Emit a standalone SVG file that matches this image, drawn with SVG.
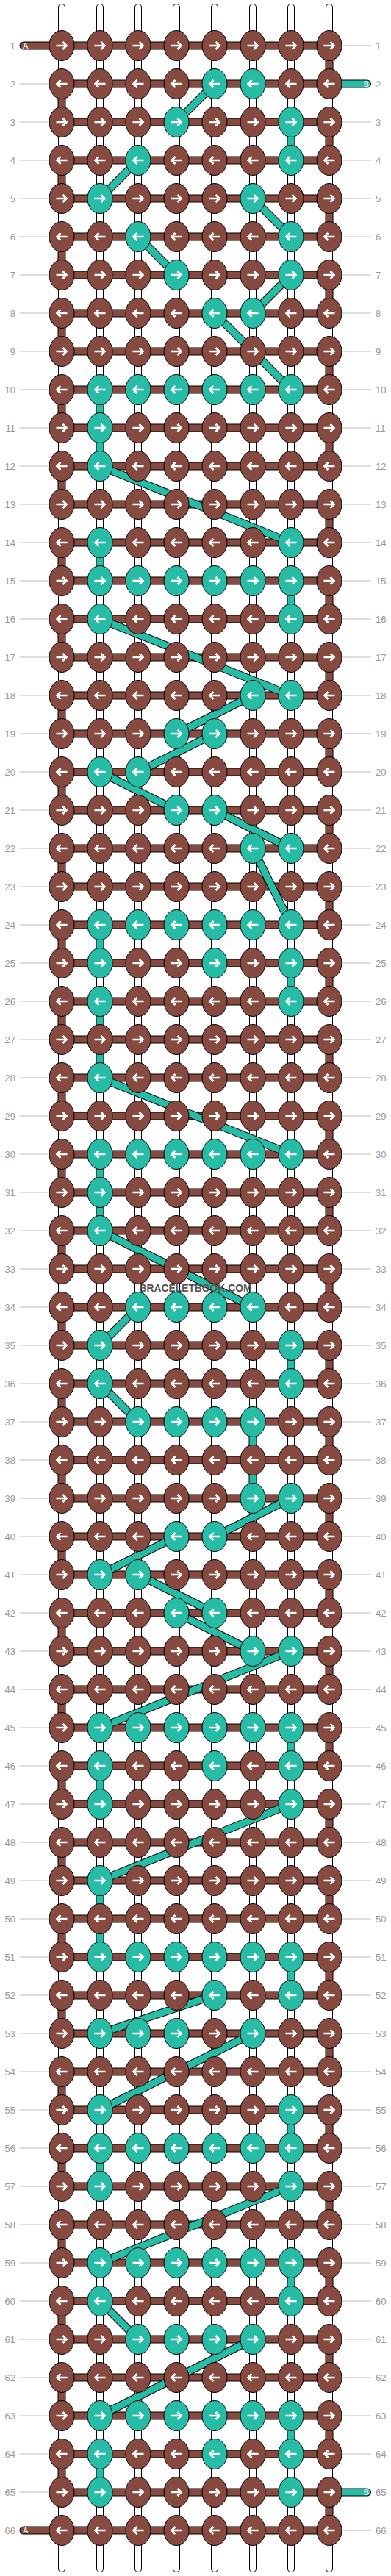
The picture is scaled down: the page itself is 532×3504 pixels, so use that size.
<svg xmlns="http://www.w3.org/2000/svg" xmlns:xlink="http://www.w3.org/1999/xlink" width="532" height="3504" viewBox="0 0 532 3504">
<style>
.sk{fill:none;stroke:#000;stroke-width:10;stroke-linecap:round}
.sw{fill:none;stroke:#fff;stroke-width:8;stroke-linecap:round}
.ak{fill:none;stroke:#000;stroke-width:11;stroke-linecap:round;stroke-linejoin:miter}
.ab{fill:none;stroke:#864a40;stroke-width:9;stroke-linecap:round;stroke-linejoin:miter}
.bk{fill:none;stroke:#000;stroke-width:11}
.bt{fill:none;stroke:#27bca5;stroke-width:9}
.ar{fill:none;stroke:#fff;stroke-width:2.6}
.l{font-family:"Liberation Sans",Arial,sans-serif;font-size:13px;fill:#999;text-anchor:end}
.r{font-family:"Liberation Sans",Arial,sans-serif;font-size:13px;fill:#999}
.ends{font-family:"Liberation Sans",Arial,sans-serif;font-size:11px;fill:#fff}
</style>
<defs>
<pattern id="gl" x="27" y="36" width="478" height="52" patternUnits="userSpaceOnUse"><rect y="25.5" width="478" height="1" fill="#bbb"/></pattern>
<g id="bR"><ellipse rx="17" ry="20.5" fill="#864a40" stroke="#000"/><path class="ar" d="M-7.5 0H6M1.5-5L6.5 0L1.5 5"/></g>
<g id="bL"><ellipse rx="17" ry="20.5" fill="#864a40" stroke="#000"/><path class="ar" d="M7.5 0H-6M-1.5-5L-6.5 0L-1.5 5"/></g>
<g id="tR"><ellipse rx="17" ry="20.5" fill="#27bca5" stroke="#000"/><path class="ar" d="M-7.5 0H6M1.5-5L6.5 0L1.5 5"/></g>
<g id="tL"><ellipse rx="17" ry="20.5" fill="#27bca5" stroke="#000"/><path class="ar" d="M7.5 0H-6M-1.5-5L-6.5 0L-1.5 5"/></g>
<path id="strands" d="M84 10V3494M136 10V3494M188 10V3494M240 10V3494M292 10V3494M344 10V3494M396 10V3494M448 10V3494"/>
<path id="apath" d="M32 62H448V114H84V166H448V218H84V270H448V322H84V374H448V426H84V478H448V530H84V582H448V634H84V686H448V738H84V790H448V842H84V894H448V946H84V998H448V1050H84V1102H448V1154H84V1206H448V1258H84V1310H448V1362H84V1414H448V1466H84V1518H448V1570H84V1622H448V1674H84V1726H448V1778H84V1830H448V1882H84V1934H448V1986H84V2038H448V2090H84V2142H448V2194H84V2246H448V2298H84V2350H448V2402H84V2454H448V2506H84V2558H448V2610H84V2662H448V2714H84V2766H448V2818H84V2870H448V2922H84V2974H448V3026H84V3078H448V3130H84V3182H448V3234H84V3286H448V3338H84V3390H448V3442H32"/>
<path id="bpath" d="M292 114L240 166M396 166V218M188 218L136 270M344 270L396 322M188 322L240 374M396 374L344 426M292 426L396 530M136 530V634M136 634L396 738M136 738V790M396 790V842M136 842L396 946M344 946L240 998M292 998L188 1050M136 1050L240 1102M292 1102L396 1154M344 1154L396 1258M136 1258V1310M396 1310V1362M136 1362V1466M136 1466L396 1570M136 1570V1674M136 1674L344 1778M188 1778L136 1830M396 1830V1882M136 1882L188 1934M344 1934V2038M396 2038L292 2090M240 2090L136 2142M188 2142L292 2194M240 2194L344 2246M396 2246L136 2350M396 2350V2402M136 2402V2454M396 2454L136 2558M136 2558V2662M396 2662V2714M292 2714L136 2766M344 2766L136 2870M396 2870V2922M136 2922V2974M396 2974L136 3078M396 3078V3130M136 3130L188 3182M344 3182L136 3286M396 3286V3338M136 3338V3390"/>
<path id="bends" d="M448 114H499.5M448 3390H499.5"/>
</defs>
<rect x="27" y="36" width="478" height="3432" fill="url(#gl)"/>
<g id="strings">
<use href="#strands" class="sk"/><use href="#strands" class="sw"/>
</g>
<g id="connectors">
<use href="#apath" class="ak"/><use href="#apath" class="ab"/>
<use href="#bends" class="ak"/><use href="#bends" class="ab" style="stroke:#27bca5"/>
<use href="#bpath" class="bk"/><use href="#bpath" class="bt"/>
</g>
<g id="end-labels">
<text class="ends" x="31" y="66">A</text>
<text class="ends" x="502" y="118" text-anchor="end">B</text>
<text class="ends" x="502" y="3394" text-anchor="end">B</text>
<text class="ends" x="31" y="3446">A</text>
</g>
<g id="knots">
<g transform="translate(0,62)"><g id="k1-1"><use href="#bR" x="84"/></g><g id="k1-2"><use href="#bR" x="136"/></g><g id="k1-3"><use href="#bR" x="188"/></g><g id="k1-4"><use href="#bR" x="240"/></g><g id="k1-5"><use href="#bR" x="292"/></g><g id="k1-6"><use href="#bR" x="344"/></g><g id="k1-7"><use href="#bR" x="396"/></g><g id="k1-8"><use href="#bR" x="448"/></g></g>
<g transform="translate(0,114)"><g id="k2-1"><use href="#bL" x="84"/></g><g id="k2-2"><use href="#bL" x="136"/></g><g id="k2-3"><use href="#bL" x="188"/></g><g id="k2-4"><use href="#bL" x="240"/></g><g id="k2-5"><use href="#tL" x="292"/></g><g id="k2-6"><use href="#tL" x="344"/></g><g id="k2-7"><use href="#bL" x="396"/></g><g id="k2-8"><use href="#bL" x="448"/></g></g>
<g transform="translate(0,166)"><g id="k3-1"><use href="#bR" x="84"/></g><g id="k3-2"><use href="#bR" x="136"/></g><g id="k3-3"><use href="#bR" x="188"/></g><g id="k3-4"><use href="#tR" x="240"/></g><g id="k3-5"><use href="#bR" x="292"/></g><g id="k3-6"><use href="#bR" x="344"/></g><g id="k3-7"><use href="#tR" x="396"/></g><g id="k3-8"><use href="#bR" x="448"/></g></g>
<g transform="translate(0,218)"><g id="k4-1"><use href="#bL" x="84"/></g><g id="k4-2"><use href="#bL" x="136"/></g><g id="k4-3"><use href="#tL" x="188"/></g><g id="k4-4"><use href="#bL" x="240"/></g><g id="k4-5"><use href="#bL" x="292"/></g><g id="k4-6"><use href="#bL" x="344"/></g><g id="k4-7"><use href="#tL" x="396"/></g><g id="k4-8"><use href="#bL" x="448"/></g></g>
<g transform="translate(0,270)"><g id="k5-1"><use href="#bR" x="84"/></g><g id="k5-2"><use href="#tR" x="136"/></g><g id="k5-3"><use href="#bR" x="188"/></g><g id="k5-4"><use href="#bR" x="240"/></g><g id="k5-5"><use href="#bR" x="292"/></g><g id="k5-6"><use href="#tR" x="344"/></g><g id="k5-7"><use href="#bR" x="396"/></g><g id="k5-8"><use href="#bR" x="448"/></g></g>
<g transform="translate(0,322)"><g id="k6-1"><use href="#bL" x="84"/></g><g id="k6-2"><use href="#bL" x="136"/></g><g id="k6-3"><use href="#tL" x="188"/></g><g id="k6-4"><use href="#bL" x="240"/></g><g id="k6-5"><use href="#bL" x="292"/></g><g id="k6-6"><use href="#bL" x="344"/></g><g id="k6-7"><use href="#tL" x="396"/></g><g id="k6-8"><use href="#bL" x="448"/></g></g>
<g transform="translate(0,374)"><g id="k7-1"><use href="#bR" x="84"/></g><g id="k7-2"><use href="#bR" x="136"/></g><g id="k7-3"><use href="#bR" x="188"/></g><g id="k7-4"><use href="#tR" x="240"/></g><g id="k7-5"><use href="#bR" x="292"/></g><g id="k7-6"><use href="#bR" x="344"/></g><g id="k7-7"><use href="#tR" x="396"/></g><g id="k7-8"><use href="#bR" x="448"/></g></g>
<g transform="translate(0,426)"><g id="k8-1"><use href="#bL" x="84"/></g><g id="k8-2"><use href="#bL" x="136"/></g><g id="k8-3"><use href="#bL" x="188"/></g><g id="k8-4"><use href="#bL" x="240"/></g><g id="k8-5"><use href="#tL" x="292"/></g><g id="k8-6"><use href="#tL" x="344"/></g><g id="k8-7"><use href="#bL" x="396"/></g><g id="k8-8"><use href="#bL" x="448"/></g></g>
<g transform="translate(0,478)"><g id="k9-1"><use href="#bR" x="84"/></g><g id="k9-2"><use href="#bR" x="136"/></g><g id="k9-3"><use href="#bR" x="188"/></g><g id="k9-4"><use href="#bR" x="240"/></g><g id="k9-5"><use href="#bR" x="292"/></g><g id="k9-6"><use href="#bR" x="344"/></g><g id="k9-7"><use href="#bR" x="396"/></g><g id="k9-8"><use href="#bR" x="448"/></g></g>
<g transform="translate(0,530)"><g id="k10-1"><use href="#bL" x="84"/></g><g id="k10-2"><use href="#tL" x="136"/></g><g id="k10-3"><use href="#tL" x="188"/></g><g id="k10-4"><use href="#tL" x="240"/></g><g id="k10-5"><use href="#tL" x="292"/></g><g id="k10-6"><use href="#tL" x="344"/></g><g id="k10-7"><use href="#tL" x="396"/></g><g id="k10-8"><use href="#bL" x="448"/></g></g>
<g transform="translate(0,582)"><g id="k11-1"><use href="#bR" x="84"/></g><g id="k11-2"><use href="#tR" x="136"/></g><g id="k11-3"><use href="#bR" x="188"/></g><g id="k11-4"><use href="#bR" x="240"/></g><g id="k11-5"><use href="#bR" x="292"/></g><g id="k11-6"><use href="#bR" x="344"/></g><g id="k11-7"><use href="#bR" x="396"/></g><g id="k11-8"><use href="#bR" x="448"/></g></g>
<g transform="translate(0,634)"><g id="k12-1"><use href="#bL" x="84"/></g><g id="k12-2"><use href="#tL" x="136"/></g><g id="k12-3"><use href="#bL" x="188"/></g><g id="k12-4"><use href="#bL" x="240"/></g><g id="k12-5"><use href="#bL" x="292"/></g><g id="k12-6"><use href="#bL" x="344"/></g><g id="k12-7"><use href="#bL" x="396"/></g><g id="k12-8"><use href="#bL" x="448"/></g></g>
<g transform="translate(0,686)"><g id="k13-1"><use href="#bR" x="84"/></g><g id="k13-2"><use href="#bR" x="136"/></g><g id="k13-3"><use href="#bR" x="188"/></g><g id="k13-4"><use href="#bR" x="240"/></g><g id="k13-5"><use href="#bR" x="292"/></g><g id="k13-6"><use href="#bR" x="344"/></g><g id="k13-7"><use href="#bR" x="396"/></g><g id="k13-8"><use href="#bR" x="448"/></g></g>
<g transform="translate(0,738)"><g id="k14-1"><use href="#bL" x="84"/></g><g id="k14-2"><use href="#tL" x="136"/></g><g id="k14-3"><use href="#bL" x="188"/></g><g id="k14-4"><use href="#bL" x="240"/></g><g id="k14-5"><use href="#bL" x="292"/></g><g id="k14-6"><use href="#bL" x="344"/></g><g id="k14-7"><use href="#tL" x="396"/></g><g id="k14-8"><use href="#bL" x="448"/></g></g>
<g transform="translate(0,790)"><g id="k15-1"><use href="#bR" x="84"/></g><g id="k15-2"><use href="#tR" x="136"/></g><g id="k15-3"><use href="#tR" x="188"/></g><g id="k15-4"><use href="#tR" x="240"/></g><g id="k15-5"><use href="#tR" x="292"/></g><g id="k15-6"><use href="#tR" x="344"/></g><g id="k15-7"><use href="#tR" x="396"/></g><g id="k15-8"><use href="#bR" x="448"/></g></g>
<g transform="translate(0,842)"><g id="k16-1"><use href="#bL" x="84"/></g><g id="k16-2"><use href="#tL" x="136"/></g><g id="k16-3"><use href="#bL" x="188"/></g><g id="k16-4"><use href="#bL" x="240"/></g><g id="k16-5"><use href="#bL" x="292"/></g><g id="k16-6"><use href="#bL" x="344"/></g><g id="k16-7"><use href="#tL" x="396"/></g><g id="k16-8"><use href="#bL" x="448"/></g></g>
<g transform="translate(0,894)"><g id="k17-1"><use href="#bR" x="84"/></g><g id="k17-2"><use href="#bR" x="136"/></g><g id="k17-3"><use href="#bR" x="188"/></g><g id="k17-4"><use href="#bR" x="240"/></g><g id="k17-5"><use href="#bR" x="292"/></g><g id="k17-6"><use href="#bR" x="344"/></g><g id="k17-7"><use href="#bR" x="396"/></g><g id="k17-8"><use href="#bR" x="448"/></g></g>
<g transform="translate(0,946)"><g id="k18-1"><use href="#bL" x="84"/></g><g id="k18-2"><use href="#bL" x="136"/></g><g id="k18-3"><use href="#bL" x="188"/></g><g id="k18-4"><use href="#bL" x="240"/></g><g id="k18-5"><use href="#bL" x="292"/></g><g id="k18-6"><use href="#tL" x="344"/></g><g id="k18-7"><use href="#tL" x="396"/></g><g id="k18-8"><use href="#bL" x="448"/></g></g>
<g transform="translate(0,998)"><g id="k19-1"><use href="#bR" x="84"/></g><g id="k19-2"><use href="#bR" x="136"/></g><g id="k19-3"><use href="#bR" x="188"/></g><g id="k19-4"><use href="#tR" x="240"/></g><g id="k19-5"><use href="#tR" x="292"/></g><g id="k19-6"><use href="#bR" x="344"/></g><g id="k19-7"><use href="#bR" x="396"/></g><g id="k19-8"><use href="#bR" x="448"/></g></g>
<g transform="translate(0,1050)"><g id="k20-1"><use href="#bL" x="84"/></g><g id="k20-2"><use href="#tL" x="136"/></g><g id="k20-3"><use href="#tL" x="188"/></g><g id="k20-4"><use href="#bL" x="240"/></g><g id="k20-5"><use href="#bL" x="292"/></g><g id="k20-6"><use href="#bL" x="344"/></g><g id="k20-7"><use href="#bL" x="396"/></g><g id="k20-8"><use href="#bL" x="448"/></g></g>
<g transform="translate(0,1102)"><g id="k21-1"><use href="#bR" x="84"/></g><g id="k21-2"><use href="#bR" x="136"/></g><g id="k21-3"><use href="#bR" x="188"/></g><g id="k21-4"><use href="#tR" x="240"/></g><g id="k21-5"><use href="#tR" x="292"/></g><g id="k21-6"><use href="#bR" x="344"/></g><g id="k21-7"><use href="#bR" x="396"/></g><g id="k21-8"><use href="#bR" x="448"/></g></g>
<g transform="translate(0,1154)"><g id="k22-1"><use href="#bL" x="84"/></g><g id="k22-2"><use href="#bL" x="136"/></g><g id="k22-3"><use href="#bL" x="188"/></g><g id="k22-4"><use href="#bL" x="240"/></g><g id="k22-5"><use href="#bL" x="292"/></g><g id="k22-6"><use href="#tL" x="344"/></g><g id="k22-7"><use href="#tL" x="396"/></g><g id="k22-8"><use href="#bL" x="448"/></g></g>
<g transform="translate(0,1206)"><g id="k23-1"><use href="#bR" x="84"/></g><g id="k23-2"><use href="#bR" x="136"/></g><g id="k23-3"><use href="#bR" x="188"/></g><g id="k23-4"><use href="#bR" x="240"/></g><g id="k23-5"><use href="#bR" x="292"/></g><g id="k23-6"><use href="#bR" x="344"/></g><g id="k23-7"><use href="#bR" x="396"/></g><g id="k23-8"><use href="#bR" x="448"/></g></g>
<g transform="translate(0,1258)"><g id="k24-1"><use href="#bL" x="84"/></g><g id="k24-2"><use href="#tL" x="136"/></g><g id="k24-3"><use href="#tL" x="188"/></g><g id="k24-4"><use href="#tL" x="240"/></g><g id="k24-5"><use href="#tL" x="292"/></g><g id="k24-6"><use href="#tL" x="344"/></g><g id="k24-7"><use href="#tL" x="396"/></g><g id="k24-8"><use href="#bL" x="448"/></g></g>
<g transform="translate(0,1310)"><g id="k25-1"><use href="#bR" x="84"/></g><g id="k25-2"><use href="#tR" x="136"/></g><g id="k25-3"><use href="#bR" x="188"/></g><g id="k25-4"><use href="#bR" x="240"/></g><g id="k25-5"><use href="#tR" x="292"/></g><g id="k25-6"><use href="#bR" x="344"/></g><g id="k25-7"><use href="#tR" x="396"/></g><g id="k25-8"><use href="#bR" x="448"/></g></g>
<g transform="translate(0,1362)"><g id="k26-1"><use href="#bL" x="84"/></g><g id="k26-2"><use href="#tL" x="136"/></g><g id="k26-3"><use href="#bL" x="188"/></g><g id="k26-4"><use href="#bL" x="240"/></g><g id="k26-5"><use href="#bL" x="292"/></g><g id="k26-6"><use href="#bL" x="344"/></g><g id="k26-7"><use href="#tL" x="396"/></g><g id="k26-8"><use href="#bL" x="448"/></g></g>
<g transform="translate(0,1414)"><g id="k27-1"><use href="#bR" x="84"/></g><g id="k27-2"><use href="#bR" x="136"/></g><g id="k27-3"><use href="#bR" x="188"/></g><g id="k27-4"><use href="#bR" x="240"/></g><g id="k27-5"><use href="#bR" x="292"/></g><g id="k27-6"><use href="#bR" x="344"/></g><g id="k27-7"><use href="#bR" x="396"/></g><g id="k27-8"><use href="#bR" x="448"/></g></g>
<g transform="translate(0,1466)"><g id="k28-1"><use href="#bL" x="84"/></g><g id="k28-2"><use href="#tL" x="136"/></g><g id="k28-3"><use href="#bL" x="188"/></g><g id="k28-4"><use href="#bL" x="240"/></g><g id="k28-5"><use href="#bL" x="292"/></g><g id="k28-6"><use href="#bL" x="344"/></g><g id="k28-7"><use href="#bL" x="396"/></g><g id="k28-8"><use href="#bL" x="448"/></g></g>
<g transform="translate(0,1518)"><g id="k29-1"><use href="#bR" x="84"/></g><g id="k29-2"><use href="#bR" x="136"/></g><g id="k29-3"><use href="#bR" x="188"/></g><g id="k29-4"><use href="#bR" x="240"/></g><g id="k29-5"><use href="#bR" x="292"/></g><g id="k29-6"><use href="#bR" x="344"/></g><g id="k29-7"><use href="#bR" x="396"/></g><g id="k29-8"><use href="#bR" x="448"/></g></g>
<g transform="translate(0,1570)"><g id="k30-1"><use href="#bL" x="84"/></g><g id="k30-2"><use href="#tL" x="136"/></g><g id="k30-3"><use href="#tL" x="188"/></g><g id="k30-4"><use href="#tL" x="240"/></g><g id="k30-5"><use href="#tL" x="292"/></g><g id="k30-6"><use href="#tL" x="344"/></g><g id="k30-7"><use href="#tL" x="396"/></g><g id="k30-8"><use href="#bL" x="448"/></g></g>
<g transform="translate(0,1622)"><g id="k31-1"><use href="#bR" x="84"/></g><g id="k31-2"><use href="#tR" x="136"/></g><g id="k31-3"><use href="#bR" x="188"/></g><g id="k31-4"><use href="#bR" x="240"/></g><g id="k31-5"><use href="#bR" x="292"/></g><g id="k31-6"><use href="#bR" x="344"/></g><g id="k31-7"><use href="#bR" x="396"/></g><g id="k31-8"><use href="#bR" x="448"/></g></g>
<g transform="translate(0,1674)"><g id="k32-1"><use href="#bL" x="84"/></g><g id="k32-2"><use href="#tL" x="136"/></g><g id="k32-3"><use href="#bL" x="188"/></g><g id="k32-4"><use href="#bL" x="240"/></g><g id="k32-5"><use href="#bL" x="292"/></g><g id="k32-6"><use href="#bL" x="344"/></g><g id="k32-7"><use href="#bL" x="396"/></g><g id="k32-8"><use href="#bL" x="448"/></g></g>
<g transform="translate(0,1726)"><g id="k33-1"><use href="#bR" x="84"/></g><g id="k33-2"><use href="#bR" x="136"/></g><g id="k33-3"><use href="#bR" x="188"/></g><g id="k33-4"><use href="#bR" x="240"/></g><g id="k33-5"><use href="#bR" x="292"/></g><g id="k33-6"><use href="#bR" x="344"/></g><g id="k33-7"><use href="#bR" x="396"/></g><g id="k33-8"><use href="#bR" x="448"/></g></g>
<g transform="translate(0,1778)"><g id="k34-1"><use href="#bL" x="84"/></g><g id="k34-2"><use href="#bL" x="136"/></g><g id="k34-3"><use href="#tL" x="188"/></g><g id="k34-4"><use href="#tL" x="240"/></g><g id="k34-5"><use href="#tL" x="292"/></g><g id="k34-6"><use href="#tL" x="344"/></g><g id="k34-7"><use href="#bL" x="396"/></g><g id="k34-8"><use href="#bL" x="448"/></g></g>
<g transform="translate(0,1830)"><g id="k35-1"><use href="#bR" x="84"/></g><g id="k35-2"><use href="#tR" x="136"/></g><g id="k35-3"><use href="#bR" x="188"/></g><g id="k35-4"><use href="#bR" x="240"/></g><g id="k35-5"><use href="#bR" x="292"/></g><g id="k35-6"><use href="#bR" x="344"/></g><g id="k35-7"><use href="#tR" x="396"/></g><g id="k35-8"><use href="#bR" x="448"/></g></g>
<g transform="translate(0,1882)"><g id="k36-1"><use href="#bL" x="84"/></g><g id="k36-2"><use href="#tL" x="136"/></g><g id="k36-3"><use href="#bL" x="188"/></g><g id="k36-4"><use href="#bL" x="240"/></g><g id="k36-5"><use href="#bL" x="292"/></g><g id="k36-6"><use href="#bL" x="344"/></g><g id="k36-7"><use href="#tL" x="396"/></g><g id="k36-8"><use href="#bL" x="448"/></g></g>
<g transform="translate(0,1934)"><g id="k37-1"><use href="#bR" x="84"/></g><g id="k37-2"><use href="#bR" x="136"/></g><g id="k37-3"><use href="#tR" x="188"/></g><g id="k37-4"><use href="#tR" x="240"/></g><g id="k37-5"><use href="#tR" x="292"/></g><g id="k37-6"><use href="#tR" x="344"/></g><g id="k37-7"><use href="#bR" x="396"/></g><g id="k37-8"><use href="#bR" x="448"/></g></g>
<g transform="translate(0,1986)"><g id="k38-1"><use href="#bL" x="84"/></g><g id="k38-2"><use href="#bL" x="136"/></g><g id="k38-3"><use href="#bL" x="188"/></g><g id="k38-4"><use href="#bL" x="240"/></g><g id="k38-5"><use href="#bL" x="292"/></g><g id="k38-6"><use href="#bL" x="344"/></g><g id="k38-7"><use href="#bL" x="396"/></g><g id="k38-8"><use href="#bL" x="448"/></g></g>
<g transform="translate(0,2038)"><g id="k39-1"><use href="#bR" x="84"/></g><g id="k39-2"><use href="#bR" x="136"/></g><g id="k39-3"><use href="#bR" x="188"/></g><g id="k39-4"><use href="#bR" x="240"/></g><g id="k39-5"><use href="#bR" x="292"/></g><g id="k39-6"><use href="#tR" x="344"/></g><g id="k39-7"><use href="#tR" x="396"/></g><g id="k39-8"><use href="#bR" x="448"/></g></g>
<g transform="translate(0,2090)"><g id="k40-1"><use href="#bL" x="84"/></g><g id="k40-2"><use href="#bL" x="136"/></g><g id="k40-3"><use href="#bL" x="188"/></g><g id="k40-4"><use href="#tL" x="240"/></g><g id="k40-5"><use href="#tL" x="292"/></g><g id="k40-6"><use href="#bL" x="344"/></g><g id="k40-7"><use href="#bL" x="396"/></g><g id="k40-8"><use href="#bL" x="448"/></g></g>
<g transform="translate(0,2142)"><g id="k41-1"><use href="#bR" x="84"/></g><g id="k41-2"><use href="#tR" x="136"/></g><g id="k41-3"><use href="#tR" x="188"/></g><g id="k41-4"><use href="#bR" x="240"/></g><g id="k41-5"><use href="#bR" x="292"/></g><g id="k41-6"><use href="#bR" x="344"/></g><g id="k41-7"><use href="#bR" x="396"/></g><g id="k41-8"><use href="#bR" x="448"/></g></g>
<g transform="translate(0,2194)"><g id="k42-1"><use href="#bL" x="84"/></g><g id="k42-2"><use href="#bL" x="136"/></g><g id="k42-3"><use href="#bL" x="188"/></g><g id="k42-4"><use href="#tL" x="240"/></g><g id="k42-5"><use href="#tL" x="292"/></g><g id="k42-6"><use href="#bL" x="344"/></g><g id="k42-7"><use href="#bL" x="396"/></g><g id="k42-8"><use href="#bL" x="448"/></g></g>
<g transform="translate(0,2246)"><g id="k43-1"><use href="#bR" x="84"/></g><g id="k43-2"><use href="#bR" x="136"/></g><g id="k43-3"><use href="#bR" x="188"/></g><g id="k43-4"><use href="#bR" x="240"/></g><g id="k43-5"><use href="#bR" x="292"/></g><g id="k43-6"><use href="#tR" x="344"/></g><g id="k43-7"><use href="#tR" x="396"/></g><g id="k43-8"><use href="#bR" x="448"/></g></g>
<g transform="translate(0,2298)"><g id="k44-1"><use href="#bL" x="84"/></g><g id="k44-2"><use href="#bL" x="136"/></g><g id="k44-3"><use href="#bL" x="188"/></g><g id="k44-4"><use href="#bL" x="240"/></g><g id="k44-5"><use href="#bL" x="292"/></g><g id="k44-6"><use href="#bL" x="344"/></g><g id="k44-7"><use href="#bL" x="396"/></g><g id="k44-8"><use href="#bL" x="448"/></g></g>
<g transform="translate(0,2350)"><g id="k45-1"><use href="#bR" x="84"/></g><g id="k45-2"><use href="#tR" x="136"/></g><g id="k45-3"><use href="#tR" x="188"/></g><g id="k45-4"><use href="#tR" x="240"/></g><g id="k45-5"><use href="#tR" x="292"/></g><g id="k45-6"><use href="#tR" x="344"/></g><g id="k45-7"><use href="#tR" x="396"/></g><g id="k45-8"><use href="#bR" x="448"/></g></g>
<g transform="translate(0,2402)"><g id="k46-1"><use href="#bL" x="84"/></g><g id="k46-2"><use href="#tL" x="136"/></g><g id="k46-3"><use href="#bL" x="188"/></g><g id="k46-4"><use href="#bL" x="240"/></g><g id="k46-5"><use href="#tL" x="292"/></g><g id="k46-6"><use href="#bL" x="344"/></g><g id="k46-7"><use href="#tL" x="396"/></g><g id="k46-8"><use href="#bL" x="448"/></g></g>
<g transform="translate(0,2454)"><g id="k47-1"><use href="#bR" x="84"/></g><g id="k47-2"><use href="#tR" x="136"/></g><g id="k47-3"><use href="#bR" x="188"/></g><g id="k47-4"><use href="#bR" x="240"/></g><g id="k47-5"><use href="#bR" x="292"/></g><g id="k47-6"><use href="#bR" x="344"/></g><g id="k47-7"><use href="#tR" x="396"/></g><g id="k47-8"><use href="#bR" x="448"/></g></g>
<g transform="translate(0,2506)"><g id="k48-1"><use href="#bL" x="84"/></g><g id="k48-2"><use href="#bL" x="136"/></g><g id="k48-3"><use href="#bL" x="188"/></g><g id="k48-4"><use href="#bL" x="240"/></g><g id="k48-5"><use href="#bL" x="292"/></g><g id="k48-6"><use href="#bL" x="344"/></g><g id="k48-7"><use href="#bL" x="396"/></g><g id="k48-8"><use href="#bL" x="448"/></g></g>
<g transform="translate(0,2558)"><g id="k49-1"><use href="#bR" x="84"/></g><g id="k49-2"><use href="#tR" x="136"/></g><g id="k49-3"><use href="#bR" x="188"/></g><g id="k49-4"><use href="#bR" x="240"/></g><g id="k49-5"><use href="#bR" x="292"/></g><g id="k49-6"><use href="#bR" x="344"/></g><g id="k49-7"><use href="#bR" x="396"/></g><g id="k49-8"><use href="#bR" x="448"/></g></g>
<g transform="translate(0,2610)"><g id="k50-1"><use href="#bL" x="84"/></g><g id="k50-2"><use href="#bL" x="136"/></g><g id="k50-3"><use href="#bL" x="188"/></g><g id="k50-4"><use href="#bL" x="240"/></g><g id="k50-5"><use href="#bL" x="292"/></g><g id="k50-6"><use href="#bL" x="344"/></g><g id="k50-7"><use href="#bL" x="396"/></g><g id="k50-8"><use href="#bL" x="448"/></g></g>
<g transform="translate(0,2662)"><g id="k51-1"><use href="#bR" x="84"/></g><g id="k51-2"><use href="#tR" x="136"/></g><g id="k51-3"><use href="#tR" x="188"/></g><g id="k51-4"><use href="#tR" x="240"/></g><g id="k51-5"><use href="#tR" x="292"/></g><g id="k51-6"><use href="#tR" x="344"/></g><g id="k51-7"><use href="#tR" x="396"/></g><g id="k51-8"><use href="#bR" x="448"/></g></g>
<g transform="translate(0,2714)"><g id="k52-1"><use href="#bL" x="84"/></g><g id="k52-2"><use href="#bL" x="136"/></g><g id="k52-3"><use href="#bL" x="188"/></g><g id="k52-4"><use href="#bL" x="240"/></g><g id="k52-5"><use href="#tL" x="292"/></g><g id="k52-6"><use href="#bL" x="344"/></g><g id="k52-7"><use href="#tL" x="396"/></g><g id="k52-8"><use href="#bL" x="448"/></g></g>
<g transform="translate(0,2766)"><g id="k53-1"><use href="#bR" x="84"/></g><g id="k53-2"><use href="#tR" x="136"/></g><g id="k53-3"><use href="#tR" x="188"/></g><g id="k53-4"><use href="#tR" x="240"/></g><g id="k53-5"><use href="#bR" x="292"/></g><g id="k53-6"><use href="#tR" x="344"/></g><g id="k53-7"><use href="#bR" x="396"/></g><g id="k53-8"><use href="#bR" x="448"/></g></g>
<g transform="translate(0,2818)"><g id="k54-1"><use href="#bL" x="84"/></g><g id="k54-2"><use href="#bL" x="136"/></g><g id="k54-3"><use href="#bL" x="188"/></g><g id="k54-4"><use href="#bL" x="240"/></g><g id="k54-5"><use href="#bL" x="292"/></g><g id="k54-6"><use href="#bL" x="344"/></g><g id="k54-7"><use href="#bL" x="396"/></g><g id="k54-8"><use href="#bL" x="448"/></g></g>
<g transform="translate(0,2870)"><g id="k55-1"><use href="#bR" x="84"/></g><g id="k55-2"><use href="#tR" x="136"/></g><g id="k55-3"><use href="#bR" x="188"/></g><g id="k55-4"><use href="#bR" x="240"/></g><g id="k55-5"><use href="#bR" x="292"/></g><g id="k55-6"><use href="#bR" x="344"/></g><g id="k55-7"><use href="#tR" x="396"/></g><g id="k55-8"><use href="#bR" x="448"/></g></g>
<g transform="translate(0,2922)"><g id="k56-1"><use href="#bL" x="84"/></g><g id="k56-2"><use href="#tL" x="136"/></g><g id="k56-3"><use href="#tL" x="188"/></g><g id="k56-4"><use href="#tL" x="240"/></g><g id="k56-5"><use href="#tL" x="292"/></g><g id="k56-6"><use href="#tL" x="344"/></g><g id="k56-7"><use href="#tL" x="396"/></g><g id="k56-8"><use href="#bL" x="448"/></g></g>
<g transform="translate(0,2974)"><g id="k57-1"><use href="#bR" x="84"/></g><g id="k57-2"><use href="#tR" x="136"/></g><g id="k57-3"><use href="#bR" x="188"/></g><g id="k57-4"><use href="#bR" x="240"/></g><g id="k57-5"><use href="#bR" x="292"/></g><g id="k57-6"><use href="#bR" x="344"/></g><g id="k57-7"><use href="#tR" x="396"/></g><g id="k57-8"><use href="#bR" x="448"/></g></g>
<g transform="translate(0,3026)"><g id="k58-1"><use href="#bL" x="84"/></g><g id="k58-2"><use href="#bL" x="136"/></g><g id="k58-3"><use href="#bL" x="188"/></g><g id="k58-4"><use href="#bL" x="240"/></g><g id="k58-5"><use href="#bL" x="292"/></g><g id="k58-6"><use href="#bL" x="344"/></g><g id="k58-7"><use href="#bL" x="396"/></g><g id="k58-8"><use href="#bL" x="448"/></g></g>
<g transform="translate(0,3078)"><g id="k59-1"><use href="#bR" x="84"/></g><g id="k59-2"><use href="#tR" x="136"/></g><g id="k59-3"><use href="#tR" x="188"/></g><g id="k59-4"><use href="#tR" x="240"/></g><g id="k59-5"><use href="#tR" x="292"/></g><g id="k59-6"><use href="#tR" x="344"/></g><g id="k59-7"><use href="#tR" x="396"/></g><g id="k59-8"><use href="#bR" x="448"/></g></g>
<g transform="translate(0,3130)"><g id="k60-1"><use href="#bL" x="84"/></g><g id="k60-2"><use href="#tL" x="136"/></g><g id="k60-3"><use href="#bL" x="188"/></g><g id="k60-4"><use href="#bL" x="240"/></g><g id="k60-5"><use href="#bL" x="292"/></g><g id="k60-6"><use href="#bL" x="344"/></g><g id="k60-7"><use href="#tL" x="396"/></g><g id="k60-8"><use href="#bL" x="448"/></g></g>
<g transform="translate(0,3182)"><g id="k61-1"><use href="#bR" x="84"/></g><g id="k61-2"><use href="#bR" x="136"/></g><g id="k61-3"><use href="#tR" x="188"/></g><g id="k61-4"><use href="#tR" x="240"/></g><g id="k61-5"><use href="#tR" x="292"/></g><g id="k61-6"><use href="#tR" x="344"/></g><g id="k61-7"><use href="#bR" x="396"/></g><g id="k61-8"><use href="#bR" x="448"/></g></g>
<g transform="translate(0,3234)"><g id="k62-1"><use href="#bL" x="84"/></g><g id="k62-2"><use href="#bL" x="136"/></g><g id="k62-3"><use href="#bL" x="188"/></g><g id="k62-4"><use href="#bL" x="240"/></g><g id="k62-5"><use href="#bL" x="292"/></g><g id="k62-6"><use href="#bL" x="344"/></g><g id="k62-7"><use href="#bL" x="396"/></g><g id="k62-8"><use href="#bL" x="448"/></g></g>
<g transform="translate(0,3286)"><g id="k63-1"><use href="#bR" x="84"/></g><g id="k63-2"><use href="#tR" x="136"/></g><g id="k63-3"><use href="#tR" x="188"/></g><g id="k63-4"><use href="#tR" x="240"/></g><g id="k63-5"><use href="#tR" x="292"/></g><g id="k63-6"><use href="#tR" x="344"/></g><g id="k63-7"><use href="#tR" x="396"/></g><g id="k63-8"><use href="#bR" x="448"/></g></g>
<g transform="translate(0,3338)"><g id="k64-1"><use href="#bL" x="84"/></g><g id="k64-2"><use href="#tL" x="136"/></g><g id="k64-3"><use href="#bL" x="188"/></g><g id="k64-4"><use href="#bL" x="240"/></g><g id="k64-5"><use href="#tL" x="292"/></g><g id="k64-6"><use href="#bL" x="344"/></g><g id="k64-7"><use href="#tL" x="396"/></g><g id="k64-8"><use href="#bL" x="448"/></g></g>
<g transform="translate(0,3390)"><g id="k65-1"><use href="#bR" x="84"/></g><g id="k65-2"><use href="#tR" x="136"/></g><g id="k65-3"><use href="#bR" x="188"/></g><g id="k65-4"><use href="#bR" x="240"/></g><g id="k65-5"><use href="#bR" x="292"/></g><g id="k65-6"><use href="#bR" x="344"/></g><g id="k65-7"><use href="#tR" x="396"/></g><g id="k65-8"><use href="#bR" x="448"/></g></g>
<g transform="translate(0,3442)"><g id="k66-1"><use href="#bL" x="84"/></g><g id="k66-2"><use href="#bL" x="136"/></g><g id="k66-3"><use href="#bL" x="188"/></g><g id="k66-4"><use href="#bL" x="240"/></g><g id="k66-5"><use href="#bL" x="292"/></g><g id="k66-6"><use href="#bL" x="344"/></g><g id="k66-7"><use href="#bL" x="396"/></g><g id="k66-8"><use href="#bL" x="448"/></g></g>
</g>
<text x="266" y="1757" font-family="Liberation Sans, Arial, sans-serif" font-weight="bold" font-size="15" text-anchor="middle" textLength="153" lengthAdjust="spacingAndGlyphs" fill="#555">BRACELETBOOK.COM</text>
<g id="labels-left">
<text class="l" x="21" y="66.5">1</text><text class="l" x="21" y="118.5">2</text><text class="l" x="21" y="170.5">3</text><text class="l" x="21" y="222.5">4</text><text class="l" x="21" y="274.5">5</text><text class="l" x="21" y="326.5">6</text><text class="l" x="21" y="378.5">7</text><text class="l" x="21" y="430.5">8</text><text class="l" x="21" y="482.5">9</text><text class="l" x="21" y="534.5">10</text><text class="l" x="21" y="586.5">11</text><text class="l" x="21" y="638.5">12</text><text class="l" x="21" y="690.5">13</text><text class="l" x="21" y="742.5">14</text><text class="l" x="21" y="794.5">15</text><text class="l" x="21" y="846.5">16</text><text class="l" x="21" y="898.5">17</text><text class="l" x="21" y="950.5">18</text><text class="l" x="21" y="1002.5">19</text><text class="l" x="21" y="1054.5">20</text><text class="l" x="21" y="1106.5">21</text><text class="l" x="21" y="1158.5">22</text><text class="l" x="21" y="1210.5">23</text><text class="l" x="21" y="1262.5">24</text><text class="l" x="21" y="1314.5">25</text><text class="l" x="21" y="1366.5">26</text><text class="l" x="21" y="1418.5">27</text><text class="l" x="21" y="1470.5">28</text><text class="l" x="21" y="1522.5">29</text><text class="l" x="21" y="1574.5">30</text><text class="l" x="21" y="1626.5">31</text><text class="l" x="21" y="1678.5">32</text><text class="l" x="21" y="1730.5">33</text><text class="l" x="21" y="1782.5">34</text><text class="l" x="21" y="1834.5">35</text><text class="l" x="21" y="1886.5">36</text><text class="l" x="21" y="1938.5">37</text><text class="l" x="21" y="1990.5">38</text><text class="l" x="21" y="2042.5">39</text><text class="l" x="21" y="2094.5">40</text><text class="l" x="21" y="2146.5">41</text><text class="l" x="21" y="2198.5">42</text><text class="l" x="21" y="2250.5">43</text><text class="l" x="21" y="2302.5">44</text><text class="l" x="21" y="2354.5">45</text><text class="l" x="21" y="2406.5">46</text><text class="l" x="21" y="2458.5">47</text><text class="l" x="21" y="2510.5">48</text><text class="l" x="21" y="2562.5">49</text><text class="l" x="21" y="2614.5">50</text><text class="l" x="21" y="2666.5">51</text><text class="l" x="21" y="2718.5">52</text><text class="l" x="21" y="2770.5">53</text><text class="l" x="21" y="2822.5">54</text><text class="l" x="21" y="2874.5">55</text><text class="l" x="21" y="2926.5">56</text><text class="l" x="21" y="2978.5">57</text><text class="l" x="21" y="3030.5">58</text><text class="l" x="21" y="3082.5">59</text><text class="l" x="21" y="3134.5">60</text><text class="l" x="21" y="3186.5">61</text><text class="l" x="21" y="3238.5">62</text><text class="l" x="21" y="3290.5">63</text><text class="l" x="21" y="3342.5">64</text><text class="l" x="21" y="3394.5">65</text><text class="l" x="21" y="3446.5">66</text>
</g>
<g id="labels-right">
<text class="r" x="511" y="66.5">1</text><text class="r" x="511" y="118.5">2</text><text class="r" x="511" y="170.5">3</text><text class="r" x="511" y="222.5">4</text><text class="r" x="511" y="274.5">5</text><text class="r" x="511" y="326.5">6</text><text class="r" x="511" y="378.5">7</text><text class="r" x="511" y="430.5">8</text><text class="r" x="511" y="482.5">9</text><text class="r" x="511" y="534.5">10</text><text class="r" x="511" y="586.5">11</text><text class="r" x="511" y="638.5">12</text><text class="r" x="511" y="690.5">13</text><text class="r" x="511" y="742.5">14</text><text class="r" x="511" y="794.5">15</text><text class="r" x="511" y="846.5">16</text><text class="r" x="511" y="898.5">17</text><text class="r" x="511" y="950.5">18</text><text class="r" x="511" y="1002.5">19</text><text class="r" x="511" y="1054.5">20</text><text class="r" x="511" y="1106.5">21</text><text class="r" x="511" y="1158.5">22</text><text class="r" x="511" y="1210.5">23</text><text class="r" x="511" y="1262.5">24</text><text class="r" x="511" y="1314.5">25</text><text class="r" x="511" y="1366.5">26</text><text class="r" x="511" y="1418.5">27</text><text class="r" x="511" y="1470.5">28</text><text class="r" x="511" y="1522.5">29</text><text class="r" x="511" y="1574.5">30</text><text class="r" x="511" y="1626.5">31</text><text class="r" x="511" y="1678.5">32</text><text class="r" x="511" y="1730.5">33</text><text class="r" x="511" y="1782.5">34</text><text class="r" x="511" y="1834.5">35</text><text class="r" x="511" y="1886.5">36</text><text class="r" x="511" y="1938.5">37</text><text class="r" x="511" y="1990.5">38</text><text class="r" x="511" y="2042.5">39</text><text class="r" x="511" y="2094.5">40</text><text class="r" x="511" y="2146.5">41</text><text class="r" x="511" y="2198.5">42</text><text class="r" x="511" y="2250.5">43</text><text class="r" x="511" y="2302.5">44</text><text class="r" x="511" y="2354.5">45</text><text class="r" x="511" y="2406.5">46</text><text class="r" x="511" y="2458.5">47</text><text class="r" x="511" y="2510.5">48</text><text class="r" x="511" y="2562.5">49</text><text class="r" x="511" y="2614.5">50</text><text class="r" x="511" y="2666.5">51</text><text class="r" x="511" y="2718.5">52</text><text class="r" x="511" y="2770.5">53</text><text class="r" x="511" y="2822.5">54</text><text class="r" x="511" y="2874.5">55</text><text class="r" x="511" y="2926.5">56</text><text class="r" x="511" y="2978.5">57</text><text class="r" x="511" y="3030.5">58</text><text class="r" x="511" y="3082.5">59</text><text class="r" x="511" y="3134.5">60</text><text class="r" x="511" y="3186.5">61</text><text class="r" x="511" y="3238.5">62</text><text class="r" x="511" y="3290.5">63</text><text class="r" x="511" y="3342.5">64</text><text class="r" x="511" y="3394.5">65</text><text class="r" x="511" y="3446.5">66</text>
</g>
</svg>
